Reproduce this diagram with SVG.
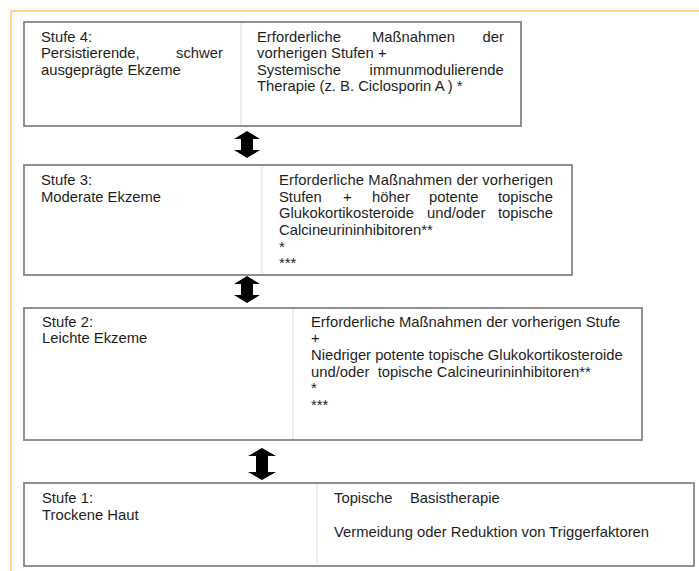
<svg xmlns="http://www.w3.org/2000/svg" width="699" height="571" viewBox="0 0 699 571">
<style>
.frame{fill:none;stroke:#fdd48c;stroke-width:2}
.box{fill:#fff;stroke:#858585;stroke-width:1.8}
.div{stroke:#e2e2e2;stroke-width:1.2}
.t{font-family:"Liberation Sans",Arial,sans-serif;font-size:14.8px;fill:#1e1e1e}
.arr{fill:#000}
</style>
<rect width="699" height="571" fill="#fff"/>
<path class="frame" d="M11,571 V11 H699"/>

<g id="stufe4">
<rect class="box" x="24" y="22" width="497" height="104"/>
<line class="div" x1="241" y1="23" x2="241" y2="125"/>
<text class="t" x="41" y="41.5">Stufe 4:</text>
<text class="t" y="58"><tspan x="41">Persistierende,</tspan><tspan x="176">schwer</tspan></text>
<text class="t" x="41" y="74.5">ausgeprägte Ekzeme</text>
<text class="t" y="41.5"><tspan x="257">Erforderliche</tspan><tspan x="372">Maßnahmen</tspan><tspan x="482.6">der</tspan></text>
<text class="t" x="257" y="58">vorherigen Stufen +</text>
<text class="t" y="74.5"><tspan x="257">Systemische</tspan><tspan x="369.6">immunmodulierende</tspan></text>
<text class="t" x="257" y="91">Therapie (z. B. Ciclosporin A ) *</text>
</g>

<g id="stufe3">
<rect class="box" x="24" y="165" width="548" height="110"/>
<line class="div" x1="262" y1="166" x2="262" y2="274"/>
<text class="t" x="41" y="185">Stufe 3:</text>
<text class="t" x="41" y="201.7">Moderate Ekzeme</text>
<text class="t" x="279" y="185" textLength="274" lengthAdjust="spacing">Erforderliche Maßnahmen der vorherigen</text>
<text class="t" y="201.7"><tspan x="279">Stufen</tspan><tspan x="343">+</tspan><tspan x="372">höher</tspan><tspan x="429">potente</tspan><tspan x="497.9">topische</tspan></text>
<text class="t" y="218.3"><tspan x="279">Glukokortikosteroide</tspan><tspan x="427">und/oder</tspan><tspan x="497.9">topische</tspan></text>
<text class="t" x="279" y="235">Calcineurininhibitoren**</text>
<text class="t" x="279" y="251.5">*</text>
<text class="t" x="279" y="268">***</text>
</g>

<g id="stufe2">
<rect class="box" x="24" y="308" width="618" height="132"/>
<line class="div" x1="293" y1="309" x2="293" y2="439"/>
<text class="t" x="42" y="326.7">Stufe 2:</text>
<text class="t" x="42" y="343.3">Leichte Ekzeme</text>
<text class="t" x="311" y="326.7">Erforderliche Maßnahmen der vorherigen Stufe</text>
<text class="t" x="311" y="343.3">+</text>
<text class="t" x="311" y="360">Niedriger potente topische Glukokortikosteroide</text>
<text class="t" x="311" y="376.6" xml:space="preserve">und/oder  topische Calcineurininhibitoren**</text>
<text class="t" x="311" y="393.2">*</text>
<text class="t" x="311" y="409.8">***</text>
</g>

<g id="stufe1">
<rect class="box" x="24" y="483" width="670" height="83"/>
<line class="div" x1="317" y1="484" x2="317" y2="565"/>
<text class="t" x="42" y="503.3">Stufe 1:</text>
<text class="t" x="42" y="520">Trockene Haut</text>
<text class="t" y="503.3"><tspan x="334">Topische</tspan><tspan x="410">Basistherapie</tspan></text>
<text class="t" x="334" y="536.7">Vermeidung oder Reduktion von Triggerfaktoren</text>
</g>

<g id="connectors">
<path class="arr" d="M247,131 L260,139 L253,139 L253,150 L260,150 L247,158 L234,150 L241,150 L241,139 L234,139 Z"/>
<path class="arr" d="M247,276 L260,284 L253,284 L253,295 L260,295 L247,303 L234,295 L241,295 L241,284 L234,284 Z"/>
<path class="arr" d="M262,448 L276,456 L268,456 L268,472 L276,472 L262,480 L248,472 L256,472 L256,456 L248,456 Z"/>
</g>
</svg>
